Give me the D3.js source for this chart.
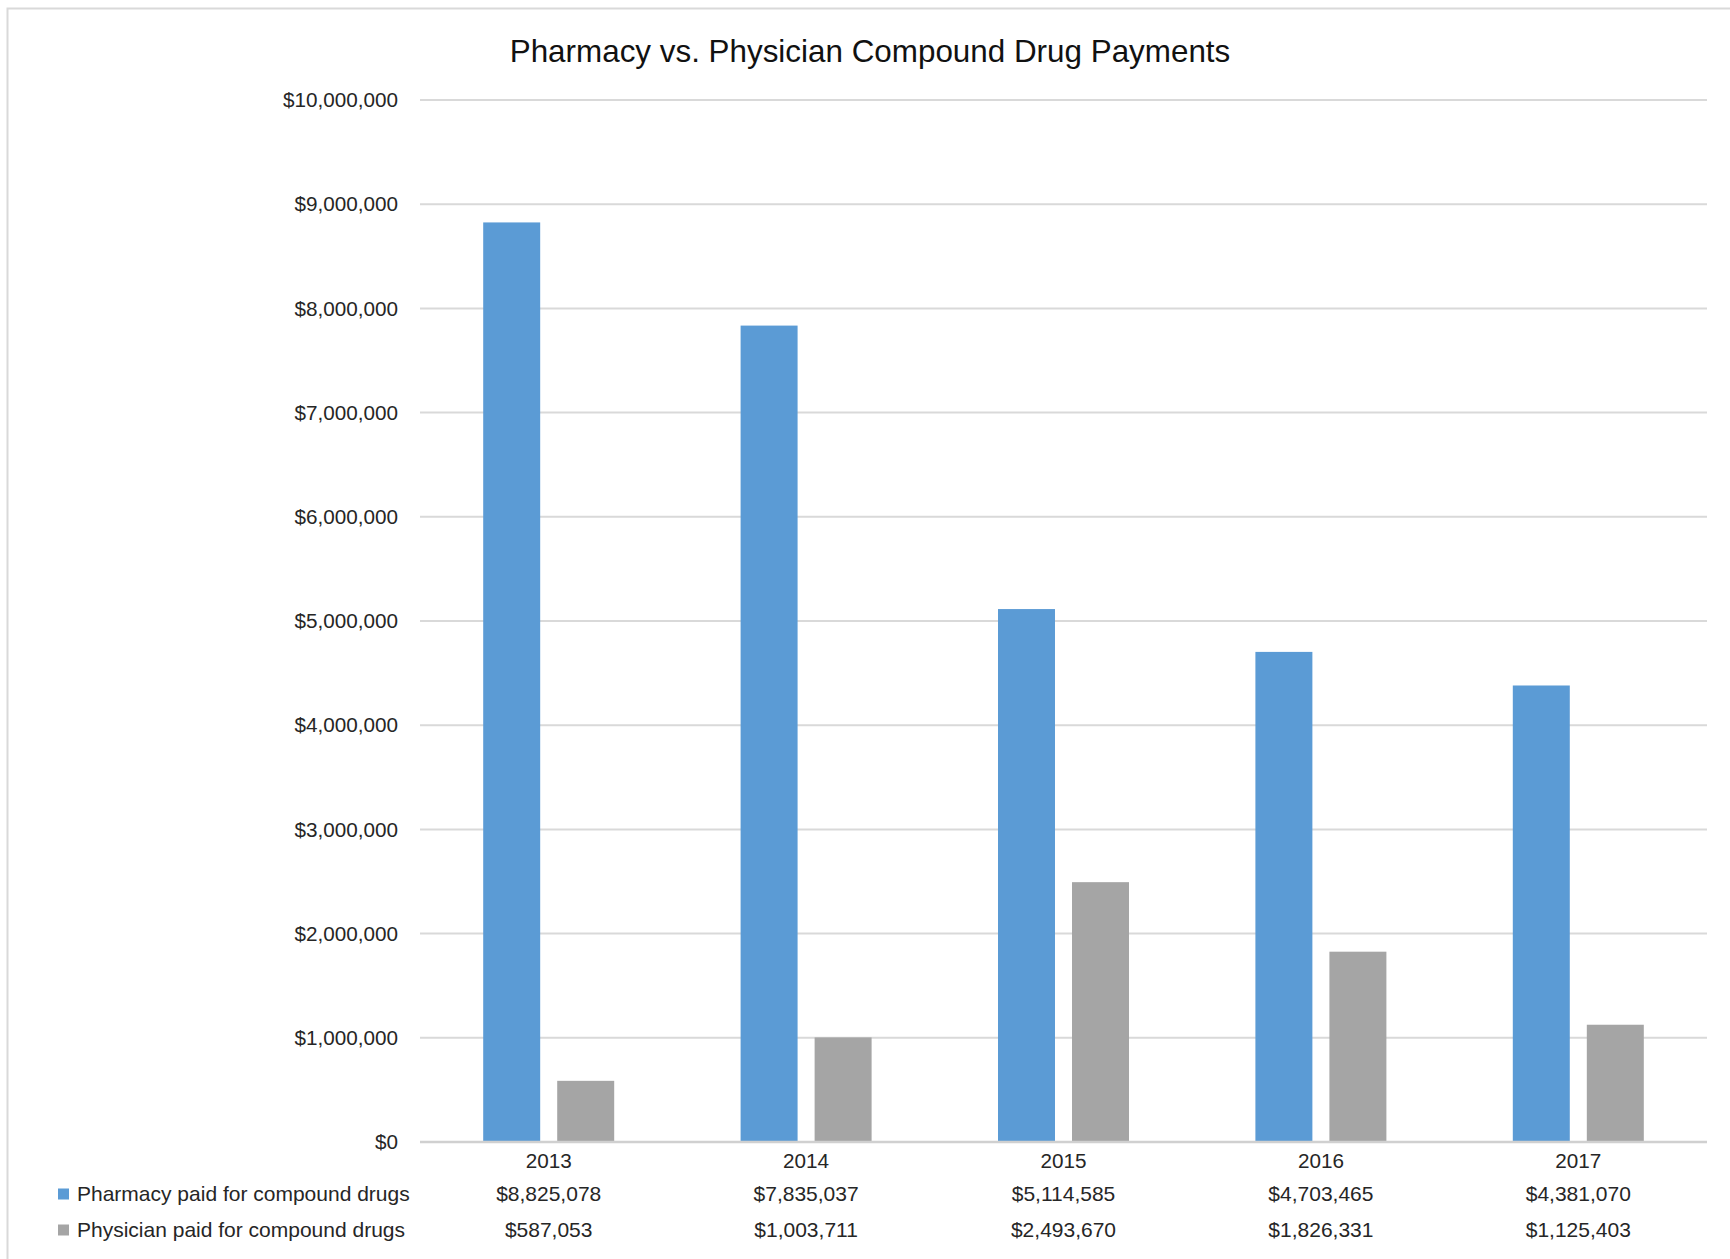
<!DOCTYPE html>
<html>
<head>
<meta charset="utf-8">
<script src="https://cdn.jsdelivr.net/npm/d3@7"></script>
<style>
  html, body { margin: 0; padding: 0; background: #fff; }
  svg { display: block; }
  text { font-family: "Liberation Sans", Arial, sans-serif; }
</style>
</head>
<body>
<svg id="chart" width="1730" height="1259"></svg>
<script>
const title = "Pharmacy vs. Physician Compound Drug Payments";
const years = ["2013", "2014", "2015", "2016", "2017"];
const seriesNames = ["Pharmacy paid for compound drugs", "Physician paid for compound drugs"];
const pharmacy = [8825078, 7835037, 5114585, 4703465, 4381070];
const physician = [587053, 1003711, 2493670, 1826331, 1125403];
const yTicks = [0, 1000000, 2000000, 3000000, 4000000, 5000000, 6000000, 7000000, 8000000, 9000000, 10000000];
const colors = ["#5B9BD5", "#A5A5A5"];

(function () {
const seriesValues = [pharmacy, physician];
const svg = d3.select("#chart");
const W = 1730, H = 1259;
const pLeft = 420, pRight = 1707, pTop = 100, pBottom = 1142;

// chart border
svg.append("rect").attr("x", 7.5).attr("y", 8.5).attr("width", W + 20).attr("height", H + 20)
  .attr("fill", "none").attr("stroke", "#d9d9d9").attr("stroke-width", 2);

const y = d3.scaleLinear().domain([0, 10000000]).range([pBottom, pTop]);
const x0 = d3.scaleBand().domain(years).range([pLeft, pRight]).padding(0);
const groupW = 131;
const x1 = d3.scaleBand().domain(seriesNames)
  .range([x0.bandwidth() / 2 - groupW / 2, x0.bandwidth() / 2 + groupW / 2])
  .paddingInner(0.23).paddingOuter(0);

const fmt = d3.format("$,.0f");

// gridlines
svg.append("g").selectAll("line").data(yTicks.filter(d => d > 0)).join("line")
  .attr("x1", pLeft).attr("x2", pRight)
  .attr("y1", d => y(d)).attr("y2", d => y(d))
  .attr("stroke", "#d9d9d9").attr("stroke-width", 2);

// y axis labels
const yAxis = d3.axisLeft(y).tickValues(yTicks).tickFormat(fmt).tickSize(0).tickPadding(0);
const gy = svg.append("g").attr("transform", `translate(${pLeft - 22},0)`).call(yAxis);
gy.select(".domain").remove();
gy.selectAll("text").attr("font-size", 20.7).attr("fill", "#262626")
  .attr("font-family", "'Liberation Sans', Arial, sans-serif");

// bars
const groups = svg.append("g").selectAll("g").data(years).join("g")
  .attr("transform", d => `translate(${x0(d)},0)`);
groups.selectAll("rect").data((d, i) => seriesNames.map((s, j) => ({ s, v: seriesValues[j][i], j })))
  .join("rect")
  .attr("x", d => x1(d.s))
  .attr("width", x1.bandwidth())
  .attr("y", d => y(d.v))
  .attr("height", d => y(0) - y(d.v))
  .attr("fill", d => colors[d.j]);

// baseline
svg.append("line").attr("x1", pLeft).attr("x2", pRight).attr("y1", pBottom).attr("y2", pBottom)
  .attr("stroke", "#d0d0d0").attr("stroke-width", 2.5);

// category labels
const xAxis = d3.axisBottom(x0).tickSize(0).tickPadding(0);
const gx = svg.append("g").attr("transform", `translate(0,${pBottom + 8})`).call(xAxis);
gx.select(".domain").remove();
gx.selectAll("text").attr("font-size", 20.7).attr("fill", "#262626").attr("dy", "0.85em")
  .attr("font-family", "'Liberation Sans', Arial, sans-serif");

// data table
const rowY = [1194, 1230];
seriesNames.forEach((name, j) => {
  const g = svg.append("g");
  g.append("rect").attr("x", 58).attr("y", rowY[j] - 5.5).attr("width", 11).attr("height", 11)
    .attr("fill", colors[j]);
  g.append("text").attr("x", 77).attr("y", rowY[j]).attr("dy", "0.35em")
    .attr("font-size", 21).attr("fill", "#262626").text(name);
  g.selectAll("text.val").data(seriesValues[j]).join("text").attr("class", "val")
    .attr("x", (d, i) => x0(years[i]) + x0.bandwidth() / 2)
    .attr("y", rowY[j]).attr("dy", "0.35em").attr("text-anchor", "middle")
    .attr("font-size", 21).attr("fill", "#262626").text(d => fmt(d));
});

// title
svg.append("text").attr("x", 870).attr("y", 62).attr("text-anchor", "middle")
  .attr("font-size", 31.4).attr("fill", "#111").text(title);
})();
</script>
</body>
</html>
